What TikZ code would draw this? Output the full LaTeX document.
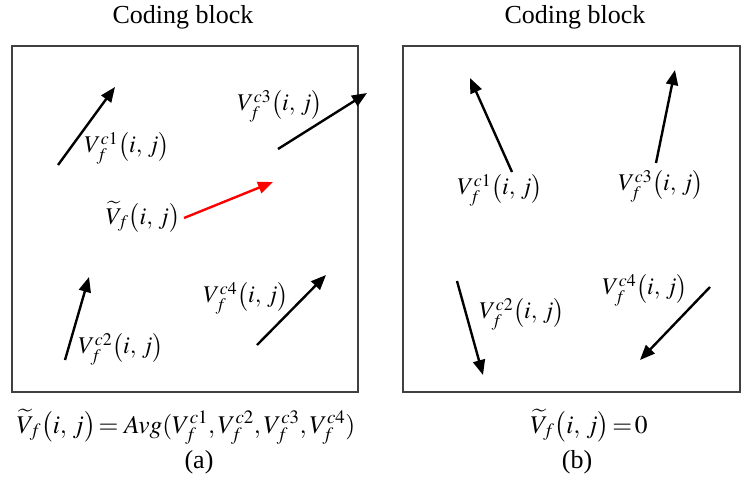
\documentclass[tikz,border=0pt]{standalone}
\usepackage{mathptmx}
\usepackage[no-math]{fontspec}
\setmainfont{Liberation Serif}
\usetikzlibrary{arrows.meta}
\tikzset{
  block/.style={draw=black!75, line width=1.4pt},
  vec/.style={line width=2.4pt, -{Triangle[length=15pt,width=12pt]}},
  redvec/.style={vec, draw=red, -{Triangle[length=15pt,width=12pt,fill=red]}},
  lbl/.style={inner sep=0pt, font=\fontsize{24}{28}\selectfont},
  frm/.style={inner sep=0pt, font=\fontsize{25.5}{30}\selectfont},
  ttl/.style={inner sep=0pt, font=\fontsize{26}{30}\selectfont},
}
\newcommand{\vlab}[1]{$V_f^{c#1}\bigl(i,\, j\bigr)$}
\begin{document}
\begin{tikzpicture}[x=1pt,y=-1pt]
\useasboundingbox (0,0) rectangle (742,480);
% boxes
\node[ttl] (t1) at (183,17) {Coding block};
\node[ttl] (t2) at (575,17) {Coding block};
\draw[block] (12,46) rectangle (358,392);
\draw[block] (403,46) rectangle (740,392);
% left panel
\coordinate (a1s) at (58,165); \coordinate (a1e) at (115,87);
\coordinate (a3s) at (278,149); \coordinate (a3e) at (367,93);
\coordinate (ars) at (184,218); \coordinate (are) at (273,182);
\coordinate (a2s) at (65,360); \coordinate (a2e) at (89,277);
\coordinate (a4s) at (257,345); \coordinate (a4e) at (326,275);
\draw[vec] (a1s) -- (a1e);
\draw[vec] (a3s) -- (a3e);
\draw[redvec] (ars) -- (are);
\draw[vec] (a2s) -- (a2e);
\draw[vec] (a4s) -- (a4e);
\node[lbl] (l1) at (127,148) {\vlab{1}};
\node[lbl] (l3) at (280,106) {\vlab{3}};
\node[lbl] (lr) at (143,217) {$\widetilde{V}_f\bigl(i,\, j\bigr)$};
\node[lbl] (l2) at (121,349) {\vlab{2}};
\node[lbl] (l4) at (246,298) {\vlab{4}};
\node[frm, anchor=base] (fa) at (186,433) {$\widetilde{V}_f\bigl(i,\, j\bigr)\!= \mathit{Avg}(V_f^{c1}, V_f^{c2}, V_f^{c3}, V_f^{c4})$};
\node[ttl, anchor=base] (ca) at (199,468) {(a)};
% right panel
\coordinate (b1s) at (512,172); \coordinate (b1e) at (470,78);
\coordinate (b3s) at (656,163); \coordinate (b3e) at (675,70);
\coordinate (b2s) at (457,281); \coordinate (b2e) at (483,375);
\coordinate (b4s) at (710,287); \coordinate (b4e) at (640,360);
\draw[vec] (b1s) -- (b1e);
\draw[vec] (b3s) -- (b3e);
\draw[vec] (b2s) -- (b2e);
\draw[vec] (b4s) -- (b4e);
\node[lbl] (m1) at (500,190) {\vlab{1}};
\node[lbl] (m3) at (661,186) {\vlab{3}};
\node[lbl] (m2) at (522,314) {\vlab{2}};
\node[lbl] (m4) at (645,290) {\vlab{4}};
\node[frm, anchor=base] (fb) at (589,433) {$\widetilde{V}_f\bigl(i,\, j\bigr)\!=\!0$};
\node[ttl, anchor=base] (cb) at (577,468) {(b)};
\end{tikzpicture}
\end{document}
